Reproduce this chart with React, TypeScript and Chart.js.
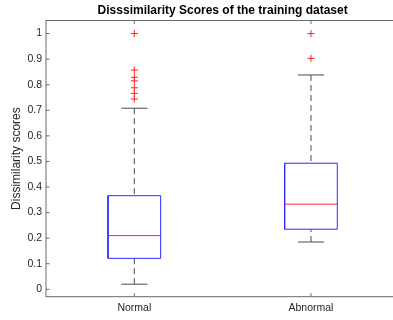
import { useEffect, useRef } from 'react';
import { Chart, registerables } from 'chart.js';

Chart.register(...registerables);

// ---- data ----
const categories = ['Normal', 'Abnormal'];
const lowerWhisker = [0.02, 0.185];
const q1 = [0.121, 0.235];
const medians = [0.21, 0.333];
const q3 = [0.366, 0.493];
const upperWhisker = [0.708, 0.838];
const normalOutliers = [1.0, 0.857, 0.829, 0.815, 0.788, 0.766, 0.744];
const abnormalOutliers = [1.0, 0.903];
const outliers = [normalOutliers, abnormalOutliers];
const yTickValues = [0, 0.1, 0.2, 0.3, 0.4, 0.5, 0.6, 0.7, 0.8, 0.9, 1];
const titleText = 'Disssimilarity Scores of the training dataset';
const yLabel = 'Dissimilarity scores';

// ---- style constants ----
const BOX_HALF = 0.149;
const CAP_HALF = 0.074;
const FONT = '"Liberation Sans", Arial, Helvetica, sans-serif';
const AXIS_COLOR = '#262626';
const FRAME_COLOR = '#6a6a6a';
const WHISKER_COLOR = '#4a4a4a';

function buildDatasets() {
  const ds: any[] = [];
  categories.forEach((_, i) => {
    const x = i + 1;
    const line = (pts: { x: number; y: number }[], color: string, dash: number[] = [], width = 1) => ({
      type: 'scatter',
      data: pts,
      showLine: true,
      borderColor: color,
      backgroundColor: color,
      borderWidth: width,
      borderDash: dash,
      pointRadius: 0,
      pointHoverRadius: 0,
      fill: false,
      tension: 0,
    });
    // whiskers (dashed)
    ds.push(line([{ x, y: upperWhisker[i] }, { x, y: q3[i] }], WHISKER_COLOR, [6, 4]));
    ds.push(line([{ x, y: lowerWhisker[i] }, { x, y: q1[i] }], WHISKER_COLOR, [6, 4]));
    // caps
    ds.push(line([{ x: x - CAP_HALF, y: upperWhisker[i] }, { x: x + CAP_HALF, y: upperWhisker[i] }], WHISKER_COLOR));
    ds.push(line([{ x: x - CAP_HALF, y: lowerWhisker[i] }, { x: x + CAP_HALF, y: lowerWhisker[i] }], WHISKER_COLOR));
    // box
    ds.push(
      line(
        [
          { x: x - BOX_HALF, y: q1[i] },
          { x: x + BOX_HALF, y: q1[i] },
          { x: x + BOX_HALF, y: q3[i] },
          { x: x - BOX_HALF, y: q3[i] },
          { x: x - BOX_HALF, y: q1[i] },
        ],
        '#2b2bff'
      )
    );
    // median
    ds.push(line([{ x: x - BOX_HALF, y: medians[i] }, { x: x + BOX_HALF, y: medians[i] }], '#ff2b2b'));
    // outliers
    ds.push({
      type: 'scatter',
      data: outliers[i].map((v) => ({ x, y: v })),
      showLine: false,
      pointStyle: 'cross',
      pointRadius: 3.5,
      pointHoverRadius: 3.5,
      borderColor: '#ff2020',
      backgroundColor: '#ff2020',
      pointBorderWidth: 1,
    });
  });
  return ds;
}

const framePlugin = {
  id: 'matlabFrame',
  afterDraw(chart: any) {
    const { ctx, chartArea: a, scales } = chart;
    ctx.save();
    ctx.strokeStyle = FRAME_COLOR;
    ctx.lineWidth = 1;
    ctx.strokeRect(a.left, a.top, a.right - a.left, a.bottom - a.top);
    ctx.beginPath();
    yTickValues.forEach((v) => {
      const py = scales.y.getPixelForValue(v);
      ctx.moveTo(a.left, py);
      ctx.lineTo(a.left + 3.5, py);
      ctx.moveTo(a.right, py);
      ctx.lineTo(a.right - 3.5, py);
    });
    categories.forEach((_, i) => {
      const px = scales.x.getPixelForValue(i + 1);
      ctx.moveTo(px, a.bottom);
      ctx.lineTo(px, a.bottom - 3.5);
      ctx.moveTo(px, a.top);
      ctx.lineTo(px, a.top + 3.5);
    });
    ctx.stroke();
    ctx.restore();
  },
};

export default function App() {
  const ref = useRef<HTMLCanvasElement | null>(null);
  useEffect(() => {
    document.body.style.margin = '0';
    document.body.style.overflow = 'hidden';
    Chart.defaults.font.family = FONT;
    const chart = new Chart(ref.current as HTMLCanvasElement, {
      type: 'scatter',
      data: { datasets: buildDatasets() },
      plugins: [framePlugin],
      options: {
        animation: false,
        responsive: false,
        devicePixelRatio: 1,
        layout: { padding: { left: 0, right: 10.7, top: 0, bottom: 0 } },
        plugins: {
          legend: { display: false },
          tooltip: { enabled: false },
          title: {
            display: true,
            text: titleText,
            fullSize: false,
            color: '#000000',
            font: { size: 12, weight: 'bold', family: FONT },
            padding: { top: 3.5, bottom: 2.6 },
          },
        },
        scales: {
          x: {
            type: 'linear',
            min: 0.5,
            max: 2.5,
            grid: { display: false, drawTicks: false },
            border: { display: false },
            afterBuildTicks: (s: any) => {
              s.ticks = categories.map((_, i) => ({ value: i + 1 }));
            },
            afterFit: (s: any) => {
              s.height = 23.3;
            },
            ticks: {
              color: AXIS_COLOR,
              font: { size: 10.5, family: FONT },
              padding: 5,
              maxRotation: 0,
              autoSkip: false,
              callback: (v: any) => categories[Math.round(Number(v)) - 1] ?? '',
            },
          },
          y: {
            type: 'linear',
            min: -0.0289,
            max: 1.051,
            grid: { display: false, drawTicks: false },
            border: { display: false },
            afterBuildTicks: (s: any) => {
              s.ticks = yTickValues.map((v) => ({ value: v }));
            },
            afterFit: (s: any) => {
              s.width = 46;
            },
            ticks: {
              color: AXIS_COLOR,
              font: { size: 10.5, family: FONT },
              padding: 4,
              autoSkip: false,
              callback: (v: any) => String(v),
            },
            title: {
              display: true,
              text: yLabel,
              color: AXIS_COLOR,
              font: { size: 12, family: FONT },
              padding: { top: 9, bottom: 0 },
            },
          },
        },
      } as any,
    });
    return () => chart.destroy();
  }, []);
  return (
    <div style={{ position: 'fixed', left: 0, top: 0, width: 393, height: 320, overflow: 'hidden', background: '#fff' }}>
      <canvas ref={ref} width={410} height={320} style={{ width: 410, height: 320, display: 'block' }} />
    </div>
  );
}
